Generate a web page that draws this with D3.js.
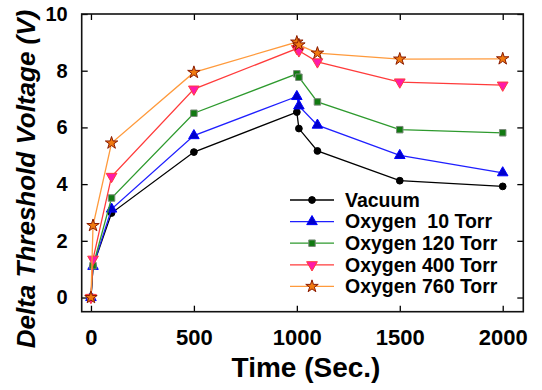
<!DOCTYPE html>
<html>
<head>
<meta charset="utf-8">
<script src="https://cdn.jsdelivr.net/npm/d3@7"></script>
<style>
body{margin:0;background:#fff;}
text{font-family:"Liberation Sans",Arial,sans-serif;font-weight:bold;}
</style>
</head>
<body>
<svg id="chart" width="542" height="390"></svg>
<script>
// time points (sec)
var times=[0,10,100,500,1000,1010,1100,1500,2000];
// delta threshold voltage (V) for each condition
var vacuum=[0,1.1,2.98,5.13,6.54,5.96,5.17,4.12,3.92];
var oxy10=[0,1.1,3.12,5.71,7.09,6.76,6.08,5.01,4.40];
var oxy120=[0,1.12,3.51,6.50,7.89,7.77,6.90,5.92,5.81];
var oxy400=[0,1.35,4.27,7.35,8.78,8.70,8.31,7.60,7.49];
var oxy760=[0,2.54,5.45,7.94,9.01,8.91,8.62,8.41,8.42];
var labels=["Vacuum","Oxygen  10 Torr","Oxygen 120 Torr","Oxygen 400 Torr","Oxygen 760 Torr"];
var xTicks=[0,500,1000,1500,2000];
var yTicks=[0,2,4,6,8,10];

var svg=d3.select("#chart");
var screen={left:81.7,right:523.3,top:14,bottom:311.7};

var xScale=d3.scaleLinear().domain([-45,2100]).range([screen.left,screen.right]);
var yScale=d3.scaleLinear().domain([-0.5,10]).range([screen.bottom,screen.top]);

var styles=[
    {line:"#000000",fill:"#000000",stroke:"#000000",sym:d3.symbolCircle,size:36,rot:0},
    {line:"#1f1fff",fill:"#0000cc",stroke:"#0000ff",sym:d3.symbolTriangle,size:48,rot:0},
    {line:"#2e9a2e",fill:"#117a11",stroke:"#7a8a7a",sym:d3.symbolSquare,size:42,rot:0},
    {line:"#ff3b3b",fill:"#ff1aa8",stroke:"#ff3b3b",sym:d3.symbolTriangle,size:50,rot:180},
    {line:"#ff9a3c",fill:"#f07a10",stroke:"#8a1a00",sym:d3.symbolStar,size:48,rot:0}
];
var series=[vacuum,oxy10,oxy120,oxy400,oxy760];

// axes, ticks pointing inward
svg.append("g")
    .attr("transform","translate(0,"+screen.bottom+")")
    .call(d3.axisBottom(xScale).tickValues(xTicks).tickFormat(d3.format("d")).tickSizeInner(-6).tickSizeOuter(0).tickPadding(17.6))
    .call(function(g){g.select(".domain").remove();})
    .selectAll("text").attr("font-size",22).attr("fill","#000");
svg.append("g")
    .attr("transform","translate(0,"+screen.top+")")
    .call(d3.axisTop(xScale).tickValues(xTicks).tickSizeInner(-6).tickSizeOuter(0).tickFormat(""))
    .call(function(g){g.select(".domain").remove();});
svg.append("g")
    .attr("transform","translate("+screen.left+",0)")
    .call(d3.axisLeft(yScale).tickValues(yTicks).tickSizeInner(-6).tickSizeOuter(0).tickPadding(14))
    .call(function(g){g.select(".domain").remove();})
    .selectAll("text").attr("font-size",20).attr("fill","#000");
svg.append("g")
    .attr("transform","translate("+screen.right+",0)")
    .call(d3.axisRight(yScale).tickValues(yTicks).tickSizeInner(-6).tickSizeOuter(0).tickFormat(""))
    .call(function(g){g.select(".domain").remove();});
svg.selectAll(".tick line").attr("stroke","#000").attr("stroke-width",1.3);

svg.append("rect")
    .attr("x",screen.left).attr("y",screen.top)
    .attr("width",screen.right-screen.left).attr("height",screen.bottom-screen.top)
    .attr("fill","none").attr("stroke","#111").attr("stroke-width",1.6);

var line=d3.line()
    .x(function(d,i){return xScale(times[i]);})
    .y(function(d){return yScale(d);});

series.forEach(function(vals,k){
    var st=styles[k];
    svg.append("path")
        .attr("d",line(vals))
        .attr("fill","none")
        .attr("stroke",st.line)
        .attr("stroke-width",1.3);
    svg.selectAll(".m"+k)
        .data(vals)
        .enter()
        .append("path")
        .attr("class","m"+k)
        .attr("d",d3.symbol().type(st.sym).size(st.size))
        .attr("transform",function(d,i){
            return "translate("+xScale(times[i])+","+yScale(d)+") rotate("+st.rot+")";
        })
        .attr("fill",st.fill)
        .attr("stroke",st.stroke)
        .attr("stroke-width",1);
});

// legend
var legend=svg.append("g");
labels.forEach(function(lab,k){
    var st=styles[k];
    var y=200+k*21.6;
    legend.append("line")
        .attr("x1",290).attr("x2",334).attr("y1",y).attr("y2",y)
        .attr("stroke",st.line).attr("stroke-width",1.3);
    legend.append("path")
        .attr("d",d3.symbol().type(st.sym).size(st.size))
        .attr("transform","translate(312,"+y+") rotate("+st.rot+")")
        .attr("fill",st.fill).attr("stroke",st.stroke).attr("stroke-width",1);
    legend.append("text")
        .attr("x",345).attr("y",y+6.8)
        .attr("font-size",19.5)
        .style("white-space","pre")
        .attr("xml:space","preserve")
        .text(lab);
});

// axis titles
svg.append("text")
    .attr("x",306).attr("y",377)
    .attr("text-anchor","middle")
    .attr("font-size",28)
    .text("Time (Sec.)");
svg.append("text")
    .attr("transform","translate(35,179) rotate(-90)")
    .attr("text-anchor","middle")
    .attr("font-size",26)
    .attr("font-style","italic")
    .text("Delta Threshold Voltage (V)");
</script>
</body>
</html>
